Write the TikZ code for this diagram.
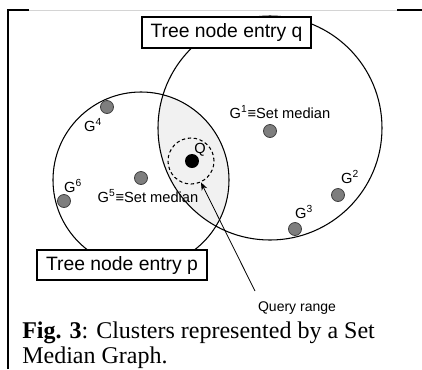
\documentclass[tikz,border=0pt]{standalone}
\usepackage{fontspec}
\setmainfont{Liberation Serif}
\setsansfont{Liberation Sans}
\usetikzlibrary{arrows.meta}

\definecolor{lensgray}{HTML}{F1F1F1}
\definecolor{dotgray}{HTML}{7E7E7E}
\definecolor{rulegray}{HTML}{D4D4D4}

\begin{document}
\begin{tikzpicture}[x=0.75pt, y=-0.75pt,
  clus/.style={draw, circle, line width=0.8pt, inner sep=0pt, outer sep=0pt},
  entry/.style={draw, rectangle, fill=white, line width=1.2pt, inner sep=0pt,
    font=\sffamily\fontsize{14.5}{16}\selectfont},
  gdot/.style={draw=black!75, fill=dotgray, circle, line width=0.6pt,
    inner sep=0pt, minimum size=9.75pt},
  glab/.style={font=\sffamily\fontsize{11}{13}\selectfont, inner sep=0pt},
  caption/.style={font=\fontsize{18}{19}\selectfont, inner sep=0pt, anchor=base west}]
  \useasboundingbox (0,0) rectangle (422,369);
  \draw[rulegray, line width=0.75pt] (29,10) -- (397,10);
  \draw[line width=1.5pt] (7.5,369) -- (7.5,10) -- (29,10);
  \draw[line width=1.5pt] (397,10) -- (422,10);

  \begin{scope}
    \clip (270,128) circle (84pt);
    \fill[lensgray] (141,180) circle (66pt);
  \end{scope}
  \node[clus, minimum size=168pt] (cq) at (270,128) {};
  \node[clus, minimum size=132pt] (cp) at (141,180) {};

  \node[entry, minimum width=126.75pt, minimum height=23.25pt] (entq) at (226.5,32.5) {Tree node entry q};
  \node[entry, minimum width=127.5pt, minimum height=22.5pt] (entp) at (122,265) {Tree node entry p};

  \node[gdot] (G1) at (270,131) {};
  \node[gdot] (G2) at (338,195) {};
  \node[gdot] (G3) at (295,229) {};
  \node[gdot] (G4) at (107,107) {};
  \node[gdot] (G5) at (141,178) {};
  \node[gdot] (G6) at (64,201) {};

  \node[glab] (lG1) at (280,112) {G\textsuperscript{1}≡Set median};
  \node[glab] (lG2) at (350,177) {G\textsuperscript{2}};
  \node[glab] (lG3) at (304,212) {G\textsuperscript{3}};
  \node[glab] (lG4) at (93,125) {G\textsuperscript{4}};
  \node[glab] (lG5) at (148,196) {G\textsuperscript{5}≡Set median};
  \node[glab] (lG6) at (73,186) {G\textsuperscript{6}};

  \node[draw, circle, dash pattern=on 2.5pt off 2pt, line width=0.8pt,
    inner sep=0pt, minimum size=34.5pt] (qr) at (191,161) {};
  \node[fill=black, circle, inner sep=0pt, minimum size=10.5pt] (Q) at (192,161) {};
  \node[glab] (lQ) at (200,150) {Q};

  \node[glab, font=\sffamily\fontsize{10.5}{12}\selectfont] (range) at (297,308) {Query range};
  \coordinate (qtail) at (255,291);
  \draw[-{Stealth[length=6pt,width=4.5pt]}, line width=0.6pt] (qtail) -- (qr.-65);

  \node[caption] (cap1) at (22,338) {\textbf{Fig. 3}: Clusters represented by a Set};
  \node[caption] (cap2) at (22,363) {Median Graph.};
\end{tikzpicture}
\end{document}
